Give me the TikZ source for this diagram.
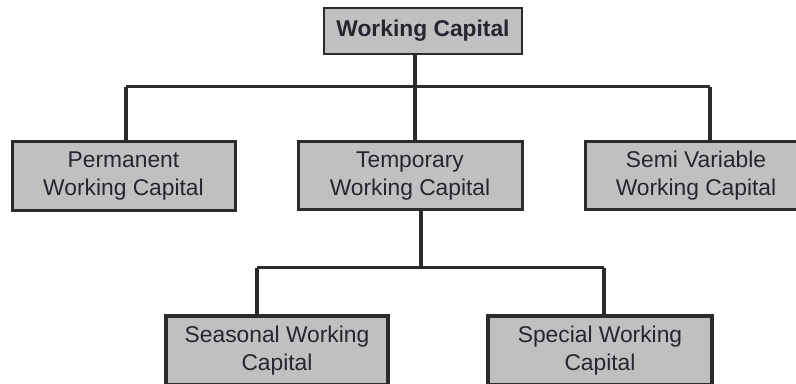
\documentclass[tikz,border=0pt]{standalone}
\usepackage{fontspec}
\setmainfont{Liberation Sans}
\usepackage{tikz}

\definecolor{boxgray}{HTML}{C0C0C0}
\definecolor{linegray}{HTML}{2B2B2B}
\definecolor{textgray}{HTML}{262630}

\begin{document}
\begin{tikzpicture}[x=0.5pt,y=-0.5pt,
    wcbox/.style={draw=linegray,fill=boxgray,text=textgray,align=center,
        inner sep=0pt,font=\fontsize{11.4}{14}\selectfont},
    link/.style={draw=linegray,line width=1.8pt}]
        \clip (0,0) rectangle (796,384);
        \useasboundingbox (0,0) rectangle (796,384);
        % top
        \node[wcbox,line width=1pt,minimum width=99pt,minimum height=23pt,
            font=\fontsize{11.4}{14}\selectfont\bfseries] (wc) at (423,31) {Working Capital};
        % middle row
        \node[wcbox,line width=1.5pt,minimum width=111.5pt,minimum height=34.5pt] (perm) at (123.5,176.5) {Permanent\\Working Capital};
        \node[wcbox,line width=1.5pt,minimum width=112pt,minimum height=34pt] (temp) at (410,176) {Temporary\\Working Capital};
        \node[wcbox,line width=1.5pt,minimum width=111pt,minimum height=34pt] (semi) at (696,176) {Semi Variable\\Working Capital};
        % bottom row
        \node[wcbox,line width=2.2pt,minimum width=111pt,minimum height=34.5pt] (seas) at (277,350.5) {Seasonal Working\\Capital};
        \node[wcbox,line width=2.2pt,minimum width=112pt,minimum height=34.5pt] (spec) at (600,350.5) {Special Working\\Capital};
        % first level connectors
        \coordinate (busA) at (126,87);
        \coordinate (busB) at (710,87);
        \coordinate (jA) at (415,87);
        \draw[link,line width=1.5pt] (busA) -- (busB);
        \draw[link] (jA |- wc.south) -- (jA |- temp.north);
        \draw[link] (busA) -- (busA |- perm.north);
        \draw[link] (busB) -- (busB |- semi.north);
        % second level connectors
        \coordinate (busC) at (257,268);
        \coordinate (busD) at (604,268);
        \coordinate (jB) at (421,268);
        \draw[link,line width=1.5pt] (busC) -- (busD);
        \draw[link] (jB |- temp.south) -- (jB);
        \draw[link] (busC) -- (busC |- seas.north);
        \draw[link] (busD) -- (busD |- spec.north);
    \end{tikzpicture}
\end{document}
